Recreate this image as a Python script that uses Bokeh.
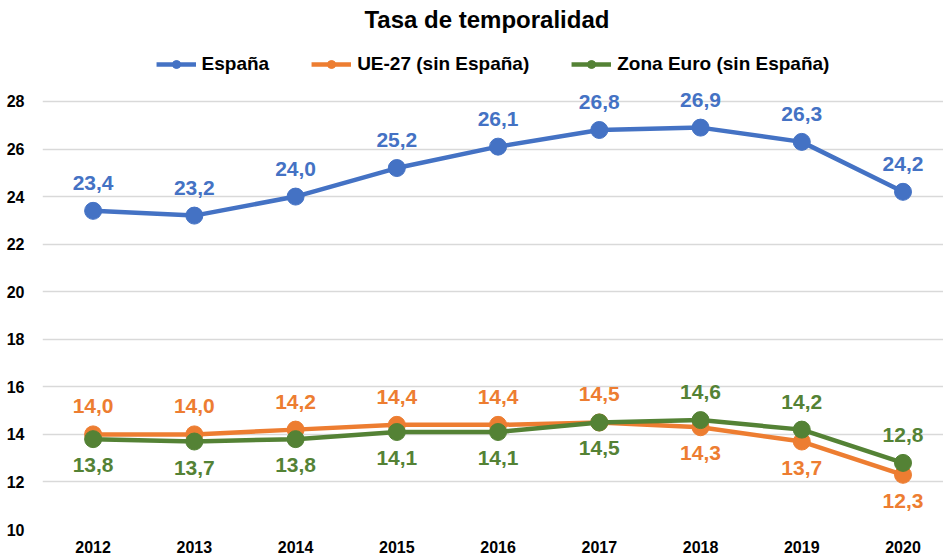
from bokeh.plotting import figure
from bokeh.models import (ColumnDataSource, FixedTicker, Legend, LegendItem,
                          Range1d, Label)
from bokeh.core.properties import value
from bokeh.embed import file_html
from bokeh.resources import INLINE

years = [2012, 2013, 2014, 2015, 2016, 2017, 2018, 2019, 2020]
espana = [23.4, 23.2, 24.0, 25.2, 26.1, 26.8, 26.9, 26.3, 24.2]
ue27 = [14.0, 14.0, 14.2, 14.4, 14.4, 14.5, 14.3, 13.7, 12.3]
zona_euro = [13.8, 13.7, 13.8, 14.1, 14.1, 14.5, 14.6, 14.2, 12.8]
y_ticks = [10, 12, 14, 16, 18, 20, 22, 24, 26, 28]

# label placement per point
pos_espana = ["above"] * 9
pos_ue27 = ["above"] * 6 + ["below"] * 3
pos_zona = ["below"] * 6 + ["above"] * 3

names = ["España", "UE-27 (sin España)", "Zona Euro (sin España)"]
colors = ["#4472C4", "#ED7D31", "#548235"]
FONT = "Liberation Sans"

# layout (pixels)
W, H = 943, 560
LEFT, BOTTOM = 42, 31
FRAME_H = H - BOTTOM
PX_PER_UNIT = 23.78
Y_MIN = 10
Y_MAX = Y_MIN + FRAME_H / PX_PER_UNIT
X0, X1 = 2011.5, 2020.4

p = figure(frame_width=W - LEFT, frame_height=FRAME_H, output_backend="svg",
           toolbar_location=None, title=None,
           x_range=Range1d(X0, X1), y_range=Range1d(Y_MIN, Y_MAX),
           min_border_left=LEFT, min_border_right=0, min_border_bottom=BOTTOM,
           min_border_top=0)
p.outline_line_color = None
p.background_fill_color = "white"
p.border_fill_color = "white"

p.xgrid.grid_line_color = None
p.ygrid.grid_line_color = "#D9D9D9"
p.ygrid.grid_line_width = 1.5
p.yaxis.ticker = FixedTicker(ticks=y_ticks)
p.xaxis.ticker = FixedTicker(ticks=years)
for ax in (p.xaxis, p.yaxis):
    ax.axis_line_color = None
    ax.major_tick_line_color = None
    ax.minor_tick_line_color = None
    ax.major_label_text_font = FONT
    ax.major_label_text_font_size = "16px"
    ax.major_label_text_font_style = "bold"
    ax.major_label_text_color = "#000000"
p.yaxis.major_label_standoff = 12
p.xaxis.major_label_standoff = 5

title = Label(x=(X0 + X1) / 2 - 0.06,
              y=Y_MAX - 19 / PX_PER_UNIT,
              text="Tasa de temporalidad", text_font=FONT,
              text_font_size="24px", text_font_style="bold",
              text_color="#000000", text_align="center",
              text_baseline="middle")
p.add_layout(title)

items = []
for name, vals, pos, col in zip(names, [espana, ue27, zona_euro],
                                [pos_espana, pos_ue27, pos_zona], colors):
    offs = [-28 if q == "above" else 26 for q in pos]
    src = ColumnDataSource(dict(x=years, y=vals,
                                t=[f"{v:.1f}".replace(".", ",") for v in vals],
                                off=offs))
    r1 = p.line("x", "y", source=src, line_color=col, line_width=4.5)
    r2 = p.scatter("x", "y", source=src, size=17, fill_color=col, line_color=col)
    p.text("x", "y", text="t", source=src, y_offset="off",
           text_font=value(FONT), text_font_size="21px", text_font_style="bold",
           text_color=col, text_align="center", text_baseline="middle")
    items.append(LegendItem(label=name, renderers=[r1, r2]))

legend = Legend(items=items, orientation="horizontal", location="top_center",
                label_text_font=FONT, label_text_font_size="19px",
                label_text_font_style="bold", label_text_color="#000000",
                glyph_width=40, glyph_height=20, spacing=42, label_standoff=6,
                border_line_color=None, background_fill_alpha=0,
                padding=4, margin=53)
p.add_layout(legend)

open("out.html", "w").write(file_html(p, INLINE))
